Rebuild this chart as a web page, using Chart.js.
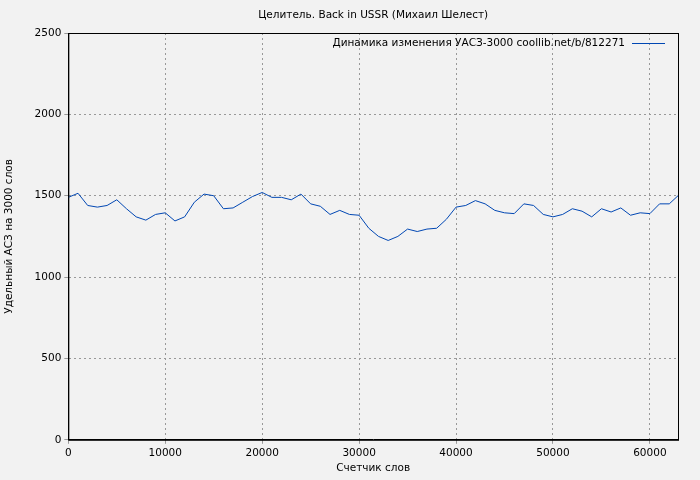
<!DOCTYPE html>
<html><head><meta charset="utf-8">
<script src="https://cdn.jsdelivr.net/npm/chart.js@4/dist/chart.umd.min.js"></script>
<style>html,body{margin:0;background:#f2f2f2}#wrap{width:700px;height:480px}</style>
</head><body><div id="wrap"><canvas id="c"></canvas></div>
<script>
const words = [0,1000,2000,3000,4000,5000,6000,7000,8000,9000,10000,11000,12000,13000,14000,15000,16000,17000,18000,19000,20000,21000,22000,23000,24000,25000,26000,27000,28000,29000,30000,31000,32000,33000,34000,35000,36000,37000,38000,39000,40000,41000,42000,43000,44000,45000,46000,47000,48000,49000,50000,51000,52000,53000,54000,55000,56000,57000,58000,59000,60000,61000,62000,62900];
const uasz = [1490,1515,1440,1430,1440,1475,1420,1370,1350,1385,1395,1345,1370,1460,1510,1500,1420,1425,1460,1495,1520,1490,1490,1475,1510,1450,1435,1385,1410,1385,1380,1300,1250,1225,1250,1295,1280,1295,1300,1355,1430,1440,1470,1450,1410,1395,1390,1450,1440,1385,1370,1385,1420,1405,1370,1420,1400,1425,1380,1395,1390,1450,1450,1500];
const xTicks = [0,10000,20000,30000,40000,50000,60000];
const titleText = 'Целитель. Back in USSR (Михаил Шелест)';
const legendText = 'Динамика изменения УАСЗ-3000 coollib.net/b/812271';
const font = 'DejaVu Sans';
const fs = 10.5;

// title centred over the plot area, plus the legend inside the plot
const textPlugin = {
  id: 'texts',
  afterDraw(chart) {
    const {ctx, chartArea} = chart;
    ctx.save();
    ctx.strokeStyle = '#000';
    ctx.lineWidth = 1;
    ctx.strokeRect(chartArea.left + 0.5, chartArea.top + 0.5, chartArea.width, chartArea.height);
    ctx.font = fs + 'px ' + font;
    ctx.fillStyle = '#000';
    ctx.textBaseline = 'middle';
    ctx.textAlign = 'center';
    ctx.fillText(titleText, (chartArea.left + chartArea.right) / 2, 15);
    ctx.textAlign = 'right';
    const y = chartArea.top + 10;
    ctx.fillText(legendText, chartArea.right - 53, y);
    ctx.strokeStyle = '#0047b3';
    ctx.beginPath();
    ctx.moveTo(chartArea.right - 46, y + 0.5);
    ctx.lineTo(chartArea.right - 13, y + 0.5);
    ctx.stroke();
    ctx.restore();
  }
};

new Chart(document.getElementById('c'), {
  type: 'line',
  data: { datasets: [{
    data: words.map((w, i) => ({x: w, y: uasz[i]})),
    borderColor: '#0047b3', borderWidth: 1, pointRadius: 0, tension: 0
  }]},
  options: {
    responsive: true, maintainAspectRatio: false, animation: false,
    layout: { padding: { right: 22, left: 1, top: 33, bottom: 5 } },
    plugins: {
      legend: { display: false },
      tooltip: { enabled: false },
      title: { display: false }
    },
    scales: {
      x: {
        type: 'linear', min: 0, max: 62900,
        afterBuildTicks: s => { s.ticks = xTicks.map(v => ({value: v})); },
        ticks: { color: '#000', font: { family: font, size: fs }, maxRotation: 0, callback: v => String(v) },
        grid: { color: '#999', tickLength: 4 }, border: { color: '#000', width: 1, dash: [2, 3] },
        title: { display: true, text: 'Счетчик слов', color: '#000', font: { family: font, size: fs }, padding: 0 }
      },
      y: {
        min: 0, max: 2500,
        ticks: { stepSize: 500, color: '#000', font: { family: font, size: fs }, callback: v => String(v) },
        grid: { color: '#999', tickLength: 4 }, border: { color: '#000', width: 1, dash: [2, 3] },
        title: { display: true, text: 'Удельный АСЗ на 3000 слов', color: '#000', font: { family: font, size: fs }, padding: { top: 2, bottom: 16 } }
      }
    }
  },
  plugins: [textPlugin]
});
</script></body></html>
